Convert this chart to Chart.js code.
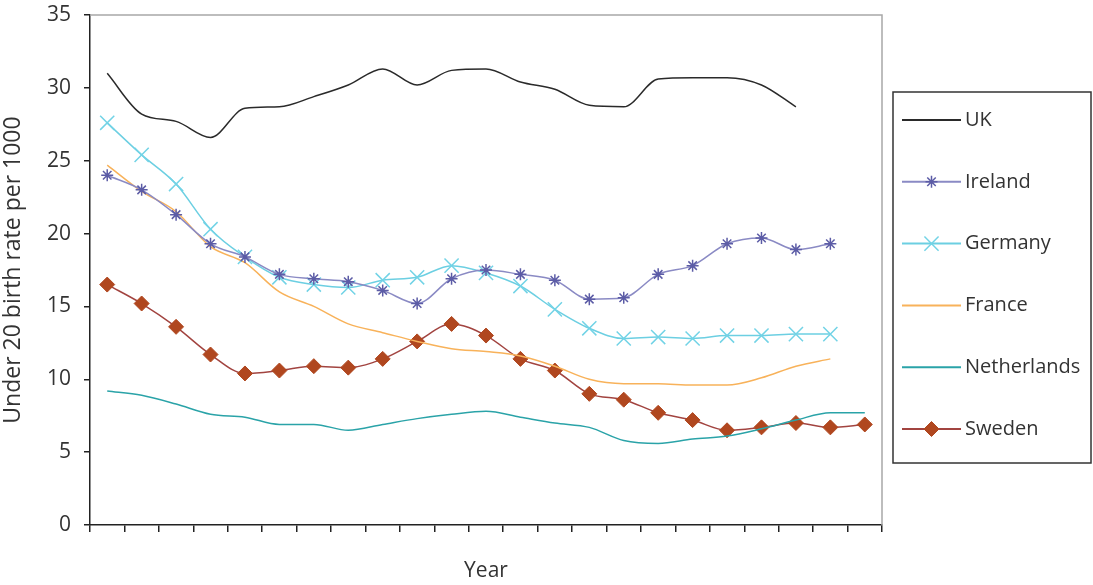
<!DOCTYPE html>
<html>
<head>
<meta charset="utf-8">
<script src="https://cdn.jsdelivr.net/npm/chart.js@4/dist/chart.umd.min.js"></script>
<style>
  html, body { margin: 0; padding: 0; background: #ffffff; }
  canvas { display: block; }
</style>
</head>
<body>
<canvas id="chart" width="1093" height="585"></canvas>
<script>
// Yearly observations (23 points along the year axis; labels are not shown)
const categories = ['1', '2', '3', '4', '5', '6', '7', '8', '9', '10', '11', '12',
                    '13', '14', '15', '16', '17', '18', '19', '20', '21', '22', '23'];

// Under-20 birth rate per 1000, per country
const uk          = [31.0, 28.2, 27.7, 26.6, 28.6, 28.7, 29.4, 30.2, 31.3, 30.2, 31.2, 31.3,
                     30.4, 29.9, 28.8, 28.7, 30.6, 30.7, 30.7, 30.2, 28.7];
const ireland     = [24.0, 23.0, 21.3, 19.3, 18.4, 17.2, 16.9, 16.7, 16.1, 15.2, 16.9, 17.5,
                     17.2, 16.8, 15.5, 15.6, 17.2, 17.8, 19.3, 19.7, 18.9, 19.3];
const germany     = [27.6, 25.4, 23.4, 20.3, 18.4, 17.0, 16.5, 16.3, 16.8, 17.0, 17.8, 17.3,
                     16.4, 14.8, 13.5, 12.8, 12.9, 12.8, 13.0, 13.0, 13.1, 13.1];
const france      = [24.7, 22.9, 21.5, 19.1, 18.0, 16.0, 15.0, 13.8, 13.2, 12.6, 12.1, 11.9,
                     11.6, 10.9, 10.0, 9.7, 9.7, 9.6, 9.6, 10.1, 10.9, 11.4];
const netherlands = [9.2, 8.9, 8.3, 7.6, 7.4, 6.9, 6.9, 6.5, 6.9, 7.3, 7.6, 7.8,
                     7.4, 7.0, 6.7, 5.8, 5.6, 5.9, 6.1, 6.6, 7.2, 7.7, 7.7];
const sweden      = [16.5, 15.2, 13.6, 11.7, 10.4, 10.6, 10.9, 10.8, 11.4, 12.6, 13.8, 13.0,
                     11.4, 10.6, 9.0, 8.6, 7.7, 7.2, 6.5, 6.7, 7.0, 6.7, 6.9];

const yTicks = { min: 0, max: 35, step: 5 };

const FONT = '"Open Sans", "DejaVu Sans", sans-serif';
const TEXT = '#333333';
const AXIS = '#222222';

function series(label, data, color, extra) {
  return Object.assign({
    label: label,
    data: data,
    borderColor: color,
    backgroundColor: color,
    borderWidth: 1.5,
    pointRadius: 0,
    pointHoverRadius: 0,
    cubicInterpolationMode: 'monotone',
    fill: false
  }, extra || {});
}

const datasets = [
  series('UK', uk, '#2a2a2a'),
  series('Ireland', ireland, '#8a8ac4', {
    pointStyle: 'star', pointRadius: 6, pointBorderWidth: 1.5,
    pointBorderColor: '#5c5ca6', pointBackgroundColor: '#5c5ca6'
  }),
  series('Germany', germany, '#6ccfe2', {
    pointStyle: 'crossRot', pointRadius: 10, pointBorderWidth: 1.5,
    pointBorderColor: '#72d3e6', pointBackgroundColor: '#72d3e6'
  }),
  series('France', france, '#f8b25a'),
  series('Netherlands', netherlands, '#2aa3a8'),
  series('Sweden', sweden, '#a24440', {
    pointStyle: 'rectRot', pointRadius: 7.5, pointBorderWidth: 1,
    pointBorderColor: '#b0471f', pointBackgroundColor: '#b0471f'
  })
];

// Thin grey frame on the top and right of the plot area
const plotFrame = {
  id: 'plotFrame',
  beforeDatasetsDraw(chart) {
    const { ctx, chartArea: a } = chart;
    ctx.save();
    ctx.strokeStyle = '#a8a8a8';
    ctx.lineWidth = 1.5;
    ctx.beginPath();
    ctx.moveTo(a.left, a.top);
    ctx.lineTo(a.right, a.top);
    ctx.lineTo(a.right, a.bottom);
    ctx.stroke();
    ctx.restore();
  }
};

// Boxed legend on the right: line sample, marker, label
const boxedLegend = {
  id: 'boxedLegend',
  afterDraw(chart) {
    const { ctx, chartArea: a } = chart;
    const left = a.right + 11, top = 92, right = 1091, bottom = 463;
    const firstY = 120, rowGap = 61.8;
    const lineX0 = left + 9, lineX1 = left + 68, textX = left + 72;
    ctx.save();
    ctx.strokeStyle = '#333333';
    ctx.lineWidth = 1.5;
    ctx.strokeRect(left, top, right - left, bottom - top);
    chart.data.datasets.forEach((ds, i) => {
      const y = firstY + i * rowGap;
      ctx.strokeStyle = ds.borderColor;
      ctx.lineWidth = 2;
      ctx.beginPath();
      ctx.moveTo(lineX0, y);
      ctx.lineTo(lineX1, y);
      ctx.stroke();
      if (ds.pointRadius > 0 && Chart.helpers && Chart.helpers.drawPoint) {
        ctx.fillStyle = ds.pointBackgroundColor;
        ctx.strokeStyle = ds.pointBorderColor;
        ctx.lineWidth = ds.pointBorderWidth;
        Chart.helpers.drawPoint(ctx, {
          pointStyle: ds.pointStyle,
          radius: ds.pointRadius,
          rotation: 0,
          borderWidth: ds.pointBorderWidth
        }, (lineX0 + lineX1) / 2, y);
      }
      ctx.fillStyle = TEXT;
      ctx.font = '20px ' + FONT;
      ctx.textAlign = 'left';
      ctx.textBaseline = 'middle';
      ctx.fillText(ds.label, textX, y);
    });
    ctx.restore();
  }
};

new Chart(document.getElementById('chart'), {
  type: 'line',
  data: { labels: categories, datasets: datasets },
  plugins: [plotFrame, boxedLegend],
  options: {
    responsive: false,
    animation: false,
    events: [],
    layout: { padding: { top: 15, right: 211, bottom: 0, left: 0 } },
    plugins: {
      legend: { display: false },
      tooltip: { enabled: false }
    },
    scales: {
      x: {
        type: 'category',
        offset: true,
        grid: {
          offset: true,
          drawOnChartArea: false,
          drawTicks: true,
          tickLength: 7,
          color: AXIS,
          lineWidth: 1.5
        },
        border: { display: true, color: AXIS, width: 1.5 },
        ticks: { display: false },
        title: {
          display: true,
          text: 'Year',
          color: TEXT,
          font: { family: FONT, size: 21 },
          padding: { top: 0, bottom: 1 }
        },
        afterFit(scale) { scale.height = 60; }
      },
      y: {
        min: yTicks.min,
        max: yTicks.max,
        ticks: {
          stepSize: yTicks.step,
          color: TEXT,
          font: { family: FONT, size: 21 },
          padding: 13
        },
        grid: {
          drawOnChartArea: false,
          drawTicks: true,
          tickLength: 6,
          color: AXIS,
          lineWidth: 1.5
        },
        border: { display: true, color: AXIS, width: 1.5 },
        title: {
          display: true,
          text: 'Under 20 birth rate per 1000',
          color: TEXT,
          font: { family: FONT, size: 23 },
          padding: { top: 0, bottom: 0 }
        },
        afterFit(scale) {
          scale.width = 90;
          scale.paddingTop = 0;
          scale.paddingBottom = 0;
        }
      }
    }
  }
});
</script>
</body>
</html>
